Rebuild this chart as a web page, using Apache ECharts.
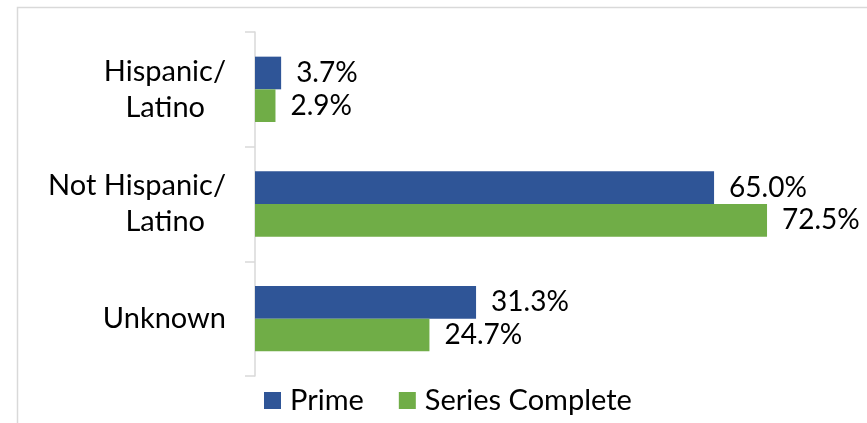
<!DOCTYPE html>
<html>
<head>
<meta charset="utf-8">
<script src="https://cdn.jsdelivr.net/npm/echarts@6/dist/echarts.min.js"></script>
<style>
html,body{margin:0;padding:0;background:#fff;}
#chart{width:867px;height:423px;}
</style>
</head>
<body>
<div id="chart"></div>
<script>
const categories = ["Hispanic/\nLatino", "Not Hispanic/\nLatino", "Unknown"];
const seriesNames = ["Prime", "Series Complete"];
const primeValues = [3.7, 65.0, 31.3];
const completeValues = [2.9, 72.5, 24.7];
const colors = ["#2F5597", "#70AD47"];
const FONT = "Lato";

const chart = echarts.init(document.getElementById('chart'), null, {renderer: 'canvas'});

function catFormatter(v) {
  const lines = v.split("\n");
  if (lines.length === 1) return "{a|" + lines[0] + "}";
  return "{a|" + lines[0] + "}\n{b|" + lines[1] + "}";
}

const labelStyle = {
  show: true,
  position: 'right',
  distance: 15,
  fontFamily: FONT,
  fontSize: 28,
  color: '#000',
  formatter: p => p.value.toFixed(1) + '%'
};

chart.setOption({
  animation: false,
  backgroundColor: '#fff',
  graphic: [{
    type: 'rect',
    left: 15, top: 5,
    shape: {width: 900, height: 500},
    style: {fill: 'none', stroke: '#D9D9D9', lineWidth: 1.5},
    silent: true
  }],
  grid: {left: 255, top: 32, bottom: 47, right: 47, containLabel: false},
  legend: {
    data: seriesNames,
    left: 264,
    top: 386,
    padding: 0,
    itemWidth: 17,
    itemHeight: 17,
    itemGap: 35,
    icon: 'rect',
    textStyle: {fontFamily: FONT, fontSize: 29, color: '#000', padding: [0, 0, 0, 4]}
  },
  xAxis: {
    type: 'value',
    min: 0, max: 80,
    show: false
  },
  yAxis: {
    type: 'category',
    data: categories,
    inverse: true,
    axisLine: {show: true, lineStyle: {color: '#D9D9D9', width: 1.5}},
    axisTick: {show: true, length: 10, lineStyle: {color: '#D9D9D9', width: 1.5}},
    axisLabel: {
      margin: 29,
      align: 'right',
      formatter: catFormatter,
      rich: {
        a: {fontFamily: FONT, fontSize: 29, color: '#000', lineHeight: 36, align: 'right'},
        b: {fontFamily: FONT, fontSize: 29, color: '#000', lineHeight: 36, align: 'right', padding: [0, 21, 0, 0]}
      }
    },
    splitLine: {show: false}
  },
  series: [
    {name: seriesNames[0], type: 'bar', data: primeValues, itemStyle: {color: colors[0]},
     barGap: '0%', barCategoryGap: '43%', label: labelStyle},
    {name: seriesNames[1], type: 'bar', data: completeValues, itemStyle: {color: colors[1]},
     barGap: '0%', barCategoryGap: '43%', label: labelStyle}
  ]
});
</script>
</body>
</html>
